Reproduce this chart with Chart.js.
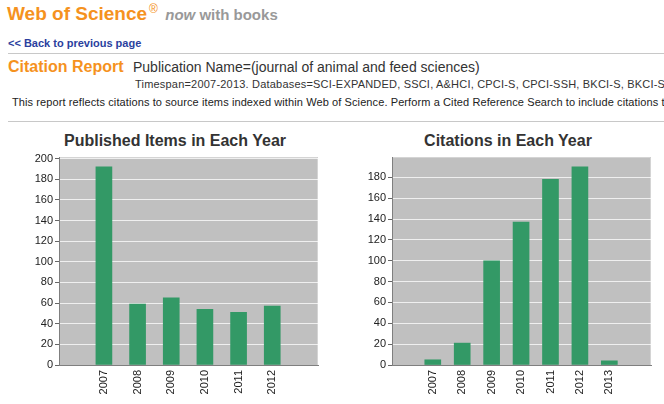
<!DOCTYPE html>
<html>
<head>
<meta charset="utf-8">
<script src="https://cdn.jsdelivr.net/npm/chart.js@4.4.1/dist/chart.umd.min.js"></script>
<style>
  html, body { margin: 0; padding: 0; background: #fff; }
  body { width: 664px; height: 404px; position: relative; overflow: hidden;
         font-family: "Liberation Sans", Arial, sans-serif; }
  .abs { position: absolute; white-space: nowrap; line-height: 1; }
  .orange { color: #f5921e; font-weight: bold; }
  .grey { color: #999; font-weight: bold; }
  .rule { position: absolute; left: 8px; right: 0; height: 1px; background: #c8c8c8; }
  .ctitle { position: absolute; top: 133px; font-size: 16px; font-weight: bold; color: #333;
            line-height: 1; white-space: nowrap; transform: translateX(-50%); }
  canvas { position: absolute; }
</style>
</head>
<body>
  <div class="abs" style="left:7px;top:3px;font-size:19px">
    <span class="orange">Web of Science</span><span class="orange" style="font-size:12px;font-weight:normal;vertical-align:7px;margin-left:2px">®</span>
    <span class="grey" style="font-size:15px;font-style:italic;margin-left:2px">now</span><span class="grey" style="font-size:15px"> with books</span>
  </div>
  <div class="abs" style="left:8px;top:38px;font-size:11px;font-weight:bold;color:#2b3f9e">&lt;&lt; Back to previous page</div>
  <div class="rule" style="top:53px"></div>
  <div class="abs orange" style="left:8px;top:59px;font-size:16px">Citation Report</div>
  <div class="abs" style="left:133px;top:60px;font-size:14px;color:#333">Publication Name=(journal of animal and feed sciences)</div>
  <div class="abs" style="left:135px;top:79px;font-size:11px;letter-spacing:0.2px;color:#333">Timespan=2007-2013. Databases=SCI-EXPANDED, SSCI, A&amp;HCI, CPCI-S, CPCI-SSH, BKCI-S, BKCI-SSH.</div>
  <div class="abs" style="left:12px;top:97px;font-size:11px;letter-spacing:0.1px;color:#222">This report reflects citations to source items indexed within Web of Science. Perform a Cited Reference Search to include citations to items not indexed within Web of Science.</div>
  <div class="rule" style="top:121px"></div>

  <div class="ctitle" style="left:175px">Published Items in Each Year</div>
  <div class="ctitle" style="left:508px">Citations in Each Year</div>

  <canvas id="pubChart" width="330" height="279" style="left:0;top:125px"></canvas>
  <canvas id="citeChart" width="334" height="279" style="left:330px;top:125px"></canvas>

<script>
// Published items per year
const pubYears = ['2007', '2008', '2009', '2010', '2011', '2012'];
const pubCounts = [192, 59, 65, 54, 51, 57];

// Citations per year
const citeYears = ['2007', '2008', '2009', '2010', '2011', '2012', '2013'];
const citeCounts = [5, 21, 100, 137, 178, 190, 4];

// y axis tops
const pubYMax = 201.6;
const citeYMax = 199.5;

const BAR_GREEN = '#339966';
const PLOT_GREY = '#c0c0c0';

const plotBg = {
  id: 'plotBg',
  beforeDraw(chart) {
    const { ctx, chartArea: a } = chart;
    ctx.save();
    ctx.fillStyle = PLOT_GREY;
    ctx.fillRect(a.left, a.top, a.right - a.left, a.bottom - a.top);
    ctx.strokeStyle = '#d4d4d4';
    ctx.lineWidth = 1;
    ctx.beginPath();
    ctx.moveTo(a.left, a.top + 0.5);
    ctx.lineTo(a.right - 0.5, a.top + 0.5);
    ctx.lineTo(a.right - 0.5, a.bottom);
    ctx.stroke();
    ctx.restore();
  }
};

function makeChart(id, years, counts, yMax, xMin, xMax, yAxisWidth, padRight) {
  const tickFont = { family: '"Liberation Sans", Arial, sans-serif', size: 11 };
  return new Chart(document.getElementById(id), {
    type: 'bar',
    data: {
      datasets: [{
        data: counts.map((v, i) => ({ x: i, y: v })),
        backgroundColor: BAR_GREEN,
        borderWidth: 0,
        barThickness: 16,
      }]
    },
    options: {
      responsive: false,
      animation: false,
      layout: { padding: { top: 32, right: padRight, left: 0, bottom: 0 } },
      plugins: { legend: { display: false }, tooltip: { enabled: false }, title: { display: false } },
      scales: {
        x: {
          type: 'linear',
          min: xMin,
          max: xMax,
          afterFit: s => { s.height = 39; },
          afterBuildTicks: s => {
            s.ticks = s.ticks.filter(t => Number.isInteger(t.value) && t.value >= 0 && t.value < years.length);
          },
          grid: { display: false, drawTicks: false },
          border: { display: true, color: '#7f7f7f', width: 1 },
          ticks: {
            stepSize: 1,
            includeBounds: false,
            autoSkip: false,
            minRotation: 90,
            maxRotation: 90,
            padding: 5,
            color: '#222',
            font: tickFont,
            callback: v => years[v]
          }
        },
        y: {
          min: 0,
          max: yMax,
          afterFit: s => { s.width = yAxisWidth; },
          afterBuildTicks: s => {
            s.ticks = s.ticks.filter(t => t.value % 20 === 0);
          },
          grid: {
            color: ctx => ctx.tick && ctx.tick.value === 0 ? 'rgba(0,0,0,0)' : 'rgba(255,255,255,0.75)',
            borderDash: [2, 2],
            tickColor: '#666',
            tickBorderDash: [],
            tickLength: 4,
          },
          border: { display: true, color: '#7f7f7f', width: 1 },
          ticks: { stepSize: 20, includeBounds: false, padding: 2, color: '#222', font: tickFont }
        }
      }
    },
    plugins: [plotBg]
  });
}

makeChart('pubChart', pubYears, pubCounts, pubYMax, -0.693, 5.718, 59, 12);
makeChart('citeChart', citeYears, citeCounts, citeYMax, -0.757, 6.787, 62, 13);
</script>
</body>
</html>
